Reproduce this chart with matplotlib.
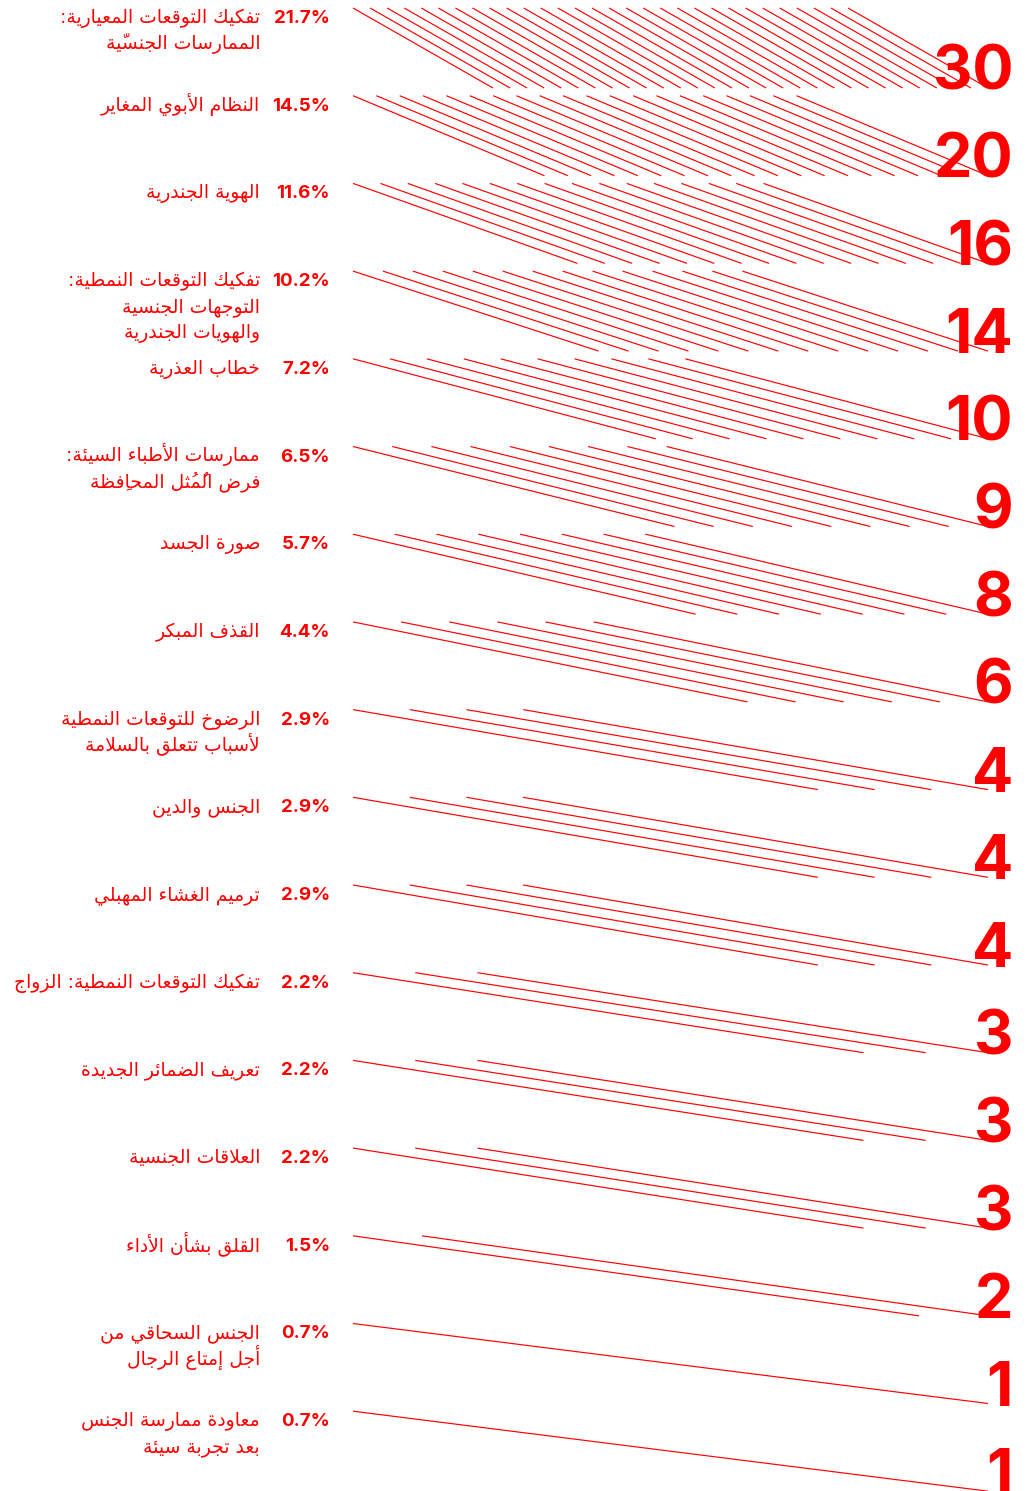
import matplotlib
matplotlib.use('Agg')
import matplotlib.pyplot as plt

# ---- data ----
labels = [
    ['تفكيك التوقعات المعيارية:', 'الممارسات الجنسيّة'],
    ['النظام الأبوي المغاير'],
    ['الهوية الجندرية'],
    ['تفكيك التوقعات النمطية:', 'التوجهات الجنسية', 'والهويات الجندرية'],
    ['خطاب العذرية'],
    ['ممارسات الأطباء السيئة:', 'فرض المُثُل المحافِظة'],
    ['صورة الجسد'],
    ['القذف المبكر'],
    ['الرضوخ للتوقعات النمطية', 'لأسباب تتعلق بالسلامة'],
    ['الجنس والدين'],
    ['ترميم الغشاء المهبلي'],
    ['تفكيك التوقعات النمطية: الزواج'],
    ['تعريف الضمائر الجديدة'],
    ['العلاقات الجنسية'],
    ['القلق بشأن الأداء'],
    ['الجنس السحاقي من', 'أجل إمتاع الرجال'],
    ['معاودة ممارسة الجنس', 'بعد تجربة سيئة'],
]
percents = [21.7, 14.5, 11.6, 10.2, 7.2, 6.5, 5.7, 4.4, 2.9, 2.9, 2.9, 2.2, 2.2, 2.2, 1.5, 0.7, 0.7]
counts = [30, 20, 16, 14, 10, 9, 8, 6, 4, 4, 4, 3, 3, 3, 2, 1, 1]

RED = '#ff0000'

# ---- arabic shaping (matplotlib has no complex text layout) ----
FORMS = {}
start = 0xFE80
for ch in 'ءآأؤإئابةتثجحخدذرزسشصضطظعغفقكلمنهوىي':
    n = 1 if ch == 'ء' else (2 if ch in 'آأؤإاةدذرزوى' else 4)
    FORMS[ch] = (start, n)
    start += n
LAMALEF = {'آ': 0xFEF5, 'أ': 0xFEF7, 'إ': 0xFEF9, 'ا': 0xFEFB}
MARKS = set('\u064b\u064c\u064d\u064e\u064f\u0650\u0651\u0652')


def shape(text):
    chars = list(text)
    out = []
    i = 0
    while i < len(chars):
        ch = chars[i]
        if ch not in FORMS:
            out.append(ch)
            i += 1
            continue
        j = i - 1
        while j >= 0 and chars[j] in MARKS:
            j -= 1
        prev_joins = j >= 0 and chars[j] in FORMS and FORMS[chars[j]][1] == 4
        k = i + 1
        while k < len(chars) and chars[k] in MARKS:
            k += 1
        nxt = chars[k] if k < len(chars) else ''
        if ch == 'ل' and nxt in LAMALEF:
            out.append(chr(LAMALEF[nxt] + (1 if prev_joins else 0)))
            out.extend(chars[i + 1:k])
            i = k + 1
            continue
        next_joins = FORMS[ch][1] == 4 and nxt in FORMS and FORMS[nxt][1] >= 2
        if prev_joins and next_joins:
            f = 3
        elif prev_joins:
            f = 1
        elif next_joins:
            f = 2
        else:
            f = 0
        if f >= FORMS[ch][1]:
            f = 1 if prev_joins and FORMS[ch][1] >= 2 else 0
        out.append(chr(FORMS[ch][0] + f))
        i += 1
    # visual order: reverse clusters (base + marks)
    clusters = []
    for c in out:
        if c in MARKS and clusters:
            clusters[-1] += c
        else:
            clusters.append(c)
    return ''.join(reversed(clusters))


# ---- figure ----
fig = plt.figure(figsize=(10.26, 14.91), dpi=100)
ax = fig.add_axes([0, 0, 1, 1])
ax.set_xlim(0, 1026)
ax.set_ylim(1491, 0)
ax.axis('off')

row_h = 87.7
x_start = 353
span = 635      # from first start to last end
k = 8.2         # line length in units of spacing
drop = 80

for i, (lab, p, n) in enumerate(zip(labels, percents, counts)):
    top = 8 + i * row_h
    # lines
    d = span / (n - 1 + k)
    for j in range(n):
        x0 = x_start + j * d
        ax.plot([x0, x0 + k * d], [top, top + drop], color=RED, lw=0.85,
                solid_capstyle='butt')
    # big count
    ax.text(1013, top + drop + 2, str(n), ha='right', va='baseline', color=RED,
            fontsize=44, fontweight='bold', family='Inter')
    # percent
    ax.text(330, top + 15, f'{p}%', ha='right', va='baseline', color=RED,
            fontsize=13.5, fontweight='bold', family='Inter')
    # arabic label lines
    for m, line in enumerate(lab):
        ax.text(260, top + 15 + m * 26, shape(line), ha='right', va='baseline',
                color=RED, fontsize=13.5, family='DejaVu Sans')

fig.savefig('out.png', dpi=100, facecolor='white')
